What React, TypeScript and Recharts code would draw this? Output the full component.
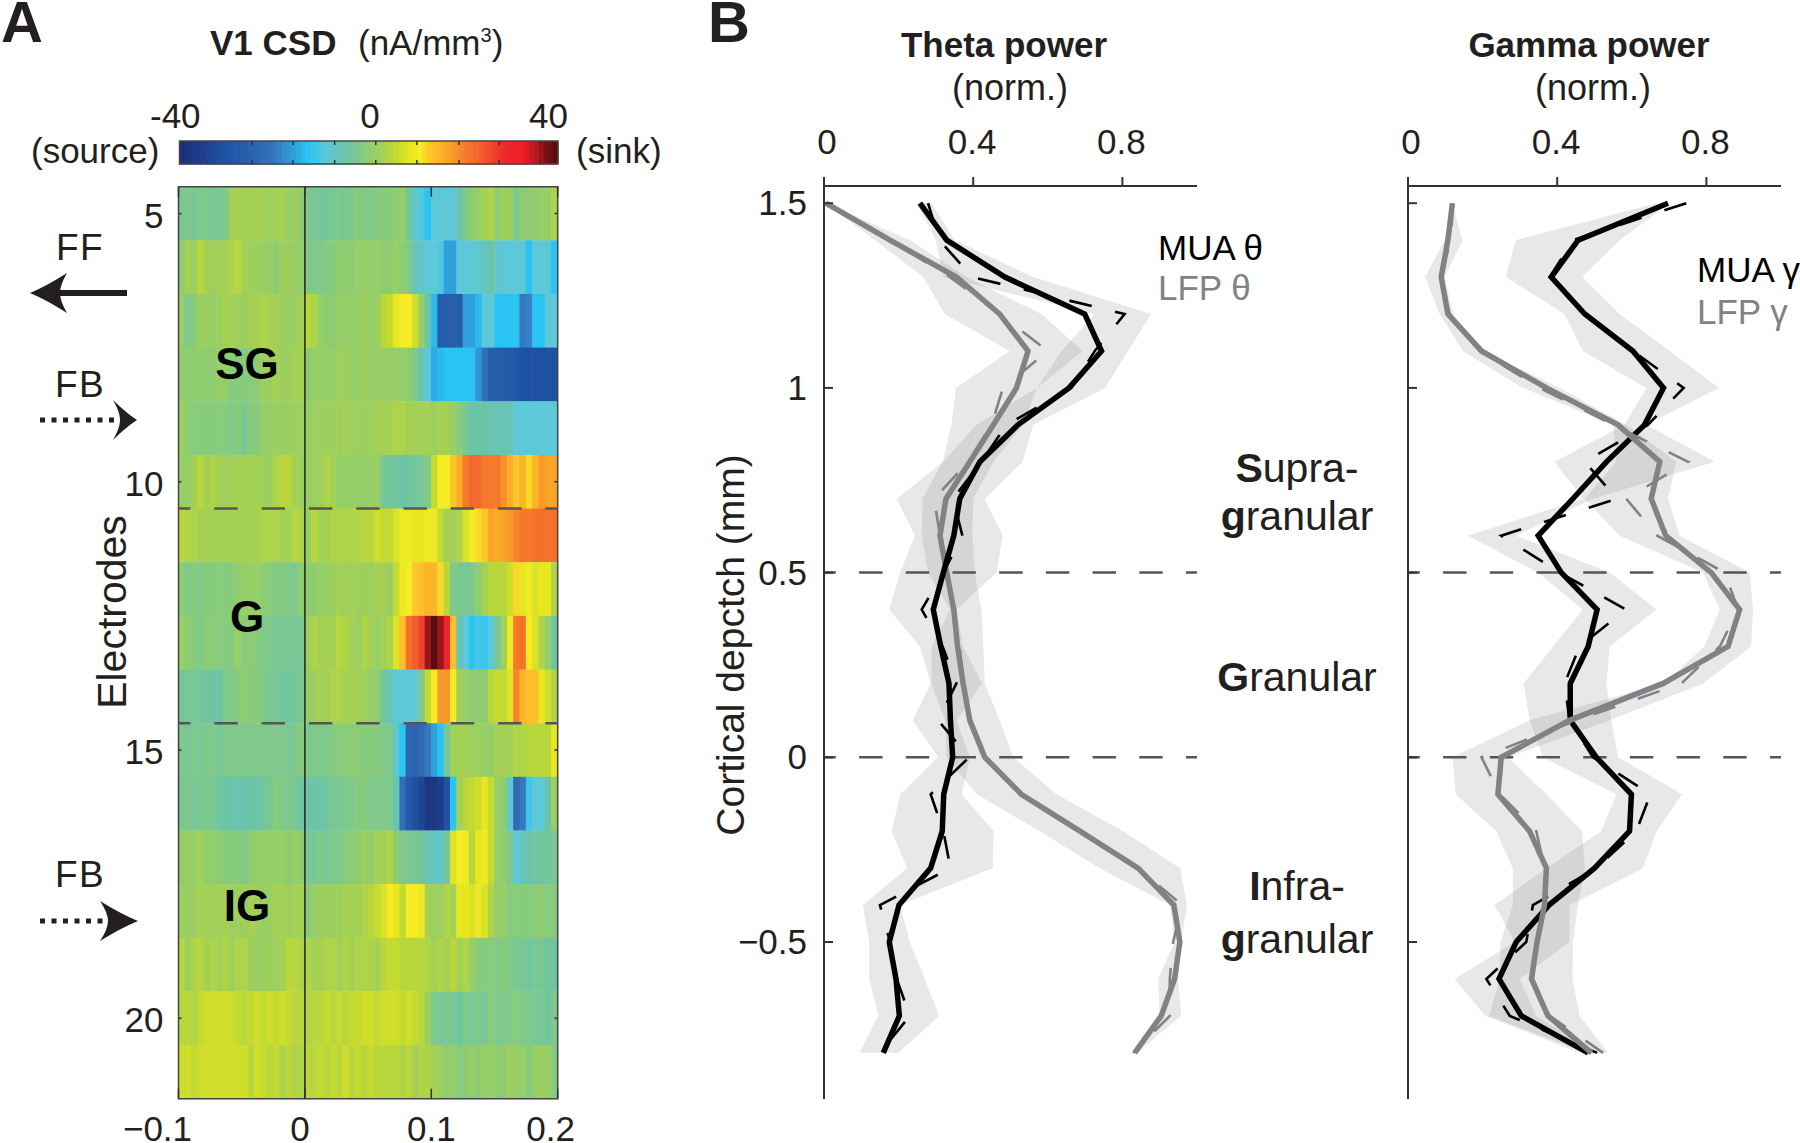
import React from "react";
import {
  Area,
  ComposedChart,
  Line,
  ReferenceArea,
  ReferenceLine,
  Scatter,
  ScatterChart,
  XAxis,
  YAxis,
} from "recharts";

const FONT = "'Liberation Sans', Arial, sans-serif";
const GREY = "#808285";
const AXIS = "#333333";

// panel A: CSD (nA/mm3), one row per electrode, 5 ms columns from -0.1 to 0.2 s
const electrodes = [5, 6, 7, 8, 9, 10, 11, 12, 13, 14, 15, 16, 17, 18, 19, 20, 21];
const csdE5 = [-3,-2,-3,-2,-2,-3,-3,-2,3,3,3,3,3,3,2,3,3,1,2,0,-2,-3,-4,-3,-3,-2,-3,-2,-1,-2,-2,-1,-1,-1,0,1,-4,-8,-10,-13,-9,-9,-9,-9,-5,-2,0,1,3,4,0,2,2,-2,0,0,0,1,1,4];
const csdE6 = [0,3,2,5,3,2,3,3,4,5,3,2,2,1,1,0,2,2,1,1,-2,-2,-2,-1,-1,0,0,0,1,1,1,1,0,0,1,0,-2,-6,-8,-9,-9,-10,-16,-16,-9,-9,-9,-8,-7,-5,-8,-9,-9,-9,-9,-13,-9,-9,-9,-13];
const csdE7 = [1,-2,-1,2,2,1,2,3,3,2,2,3,3,4,3,3,2,1,2,3,5,4,1,0,0,1,1,1,1,2,1,2,5,6,9,11,11,7,1,-5,-14,-27,-27,-26,-27,-16,-16,-14,-9,-9,-13,-13,-13,-13,-20,-19,-13,-13,-9,-9];
const csdE8 = [0,0,0,0,0,0,1,1,-1,-1,-1,-1,0,2,2,3,2,2,3,3,0,1,1,1,1,2,2,1,1,2,1,1,2,1,1,1,0,-2,-6,-9,-15,-14,-13,-13,-13,-13,-13,-17,-22,-26,-27,-27,-28,-29,-31,-31,-31,-31,-31,-31];
const csdE9 = [2,0,-1,-1,-1,-1,-1,-1,-2,-1,-3,-1,-1,1,1,2,1,2,2,2,1,2,2,2,2,2,3,2,2,2,2,3,3,3,4,4,3,3,3,3,2,3,3,1,-1,-3,-5,-5,-5,-6,-6,-6,-6,-9,-9,-9,-9,-9,-9,-9];
const csdE10 = [1,1,3,5,3,4,3,2,3,3,3,3,3,2,2,4,5,5,3,2,1,2,2,4,3,1,1,1,1,1,1,1,-3,-4,-4,-5,-4,-4,-3,-2,6,11,11,13,16,21,23,23,21,21,21,19,16,13,15,12,15,18,17,17];
const csdE11 = [5,4,4,3,3,3,3,3,3,3,3,3,3,4,4,4,3,3,5,4,1,5,3,3,4,4,4,4,4,5,5,7,6,6,8,10,10,9,9,10,10,6,3,3,4,8,11,12,13,17,16,17,18,20,21,21,22,22,22,22];
const csdE12 = [0,-2,-1,-2,-1,-1,-1,-1,-1,0,1,1,1,0,-1,-2,-1,-2,-2,0,0,0,1,1,2,3,2,3,2,2,2,3,3,1,6,10,11,13,14,15,15,12,5,-2,-3,-3,-2,0,3,5,5,5,7,12,9,10,8,9,9,4];
const csdE13 = [1,0,-1,-2,0,-1,-1,-1,-1,1,-1,0,-1,-2,-2,-3,-3,-3,-3,-3,2,4,3,3,3,5,4,3,2,4,3,1,3,4,8,14,22,24,27,37,40,37,31,14,-6,-9,-13,-11,-12,-9,-3,2,10,21,22,11,8,4,1,-5];
const csdE14 = [-4,-3,-3,-4,-4,-5,-5,-2,-2,-1,0,-1,-1,-2,-3,-3,-4,-4,-3,-3,1,2,3,3,4,4,3,3,3,2,1,0,-4,-6,-9,-9,-9,-9,-2,6,11,18,18,11,3,1,0,0,0,5,6,6,8,20,15,14,14,9,7,4];
const csdE15 = [-2,-3,-2,-3,-2,-2,-3,-2,-2,-2,-2,-2,-2,-2,-2,-2,-2,-3,-2,-1,-2,-2,-2,-2,-1,-1,-1,0,-1,-1,-1,-1,-2,-2,-8,-13,-24,-25,-23,-20,-16,-13,-3,2,3,3,2,2,1,1,3,3,3,4,4,5,5,5,5,9];
const csdE16 = [-3,-2,-3,-3,-2,-3,-4,-5,-5,-6,-5,-5,-5,-4,-3,-1,-2,-2,-3,-4,-5,-5,-5,-4,-3,-3,-2,-2,-1,-1,-2,-2,-2,-2,-6,-22,-28,-31,-34,-38,-38,-36,-31,-13,3,5,6,7,9,6,1,0,-8,-23,-20,-11,-9,-9,-5,2];
const csdE17 = [0,2,1,3,0,1,0,-1,-1,-1,-2,0,1,1,1,1,1,0,1,0,-3,-3,-2,-3,-2,-2,-1,0,0,2,1,3,3,4,0,-2,-3,-3,-4,-6,-7,-8,-3,8,11,10,5,9,10,6,1,0,-2,-9,-7,-5,-4,-4,-4,-3];
const csdE18 = [2,1,2,3,3,2,3,3,2,2,2,3,2,1,2,3,3,2,3,3,-1,1,2,2,2,2,3,3,3,4,5,6,8,11,9,6,11,11,10,3,2,2,4,3,9,9,8,10,8,4,1,1,-1,-1,-1,-1,-1,0,-1,-1];
const csdE19 = [5,2,4,5,3,4,3,4,2,4,4,2,1,2,2,2,3,5,5,4,4,3,3,4,4,3,4,3,4,4,4,3,5,6,6,5,5,5,5,4,3,4,3,5,3,4,1,-1,-1,-1,-2,-1,-2,-3,-3,-4,-3,-3,-4,-4];
const csdE20 = [5,5,4,6,7,7,7,7,7,6,5,6,7,6,7,6,7,6,5,5,4,5,5,6,5,6,5,6,6,7,7,6,7,7,7,6,7,6,5,2,-2,-3,-2,-3,-4,-2,-3,-2,-3,-1,-2,-2,-2,-1,-2,-2,-3,-3,-4,-2];
const csdE21 = [7,7,6,7,7,7,7,7,7,7,7,5,7,6,5,6,4,5,4,4,5,5,6,5,6,5,7,5,6,5,6,5,5,5,5,4,5,3,4,4,3,2,0,1,-1,0,1,0,1,1,0,0,2,1,1,-1,1,2,1,-1];
const csdRows = [csdE5, csdE6, csdE7, csdE8, csdE9, csdE10, csdE11, csdE12, csdE13, csdE14, csdE15, csdE16, csdE17, csdE18, csdE19, csdE20, csdE21];

const colorbarLevels = [-40,-39,-38,-37,-36,-35,-34,-33,-32,-31,-30,-29,-28,-27,-26,-25,-24,-23,-22,-21,-20,-19,-18,-17,-16,-15,-14,-13,-12,-11,-10,-9,-8,-7,-6,-5,-4,-3,-2,-1,0,1,2,3,4,5,6,7,8,9,10,11,12,13,14,15,16,17,18,19,20,21,22,23,24,25,26,27,28,29,30,31,32,33,34,35,36,37,38,39,40];
const colorbarTicks = [-34.7, -25, -16.2, -7.3, 1.5, 10.3, 19.3, 27.9, 36.6];

const colorStops: [number, number[]][] = [
  [-40, [28, 47, 122]],
  [-30, [31, 85, 166]],
  [-25, [42, 98, 174]],
  [-20, [52, 120, 189]],
  [-16, [47, 160, 220]],
  [-13, [41, 196, 243]],
  [-9, [92, 200, 216]],
  [-5, [108, 196, 168]],
  [-2, [127, 201, 138]],
  [0, [143, 204, 112]],
  [3, [164, 209, 85]],
  [6, [195, 218, 48]],
  [9, [232, 230, 31]],
  [11, [245, 236, 36]],
  [13, [253, 198, 42]],
  [17, [250, 164, 39]],
  [21, [245, 121, 42]],
  [25, [240, 86, 46]],
  [29, [238, 42, 42]],
  [33, [237, 28, 36]],
  [36, [176, 26, 32]],
  [38, [125, 16, 21]],
  [40, [90, 12, 16]],
];

function csdColor(v: number) {
  for (let i = 1; i < colorStops.length; i++) {
    const [hi, chi] = colorStops[i];
    if (v <= hi) {
      const [lo, clo] = colorStops[i - 1];
      const f = Math.max(0, (v - lo) / (hi - lo));
      const c = clo.map((a, k) => Math.round(a + (chi[k] - a) * f));
      return `rgb(${c[0]},${c[1]},${c[2]})`;
    }
  }
  return "rgb(90,12,16)";
}

// panel B: depth profiles
const depths = [1.5,1.4,1.3,1.2,1.1,1,0.9,0.8,0.7,0.6,0.5,0.4,0.3,0.2,0.1,0,-0.1,-0.2,-0.3,-0.4,-0.5,-0.6,-0.7,-0.8];

const muaTheta = [.257,.329,.485,.699,.744,.657,.52,.418,.364,.348,.32,.293,.313,.335,.339,.345,.321,.317,.286,.201,.175,.193,.202,.159];
const muaThetaRaw = [.279,.309,.398,.806,.726,.663,.489,.422,.346,.371,.32,.262,.318,.355,.306,.389,.286,.32,.339,.15,.177,.195,.23,.15];
const muaThetaLo = [.248,.3,.32,.726,.637,.571,.409,.32,.195,.244,.204,.175,.257,.286,.238,.306,.205,.181,.223,.104,.121,.121,.146,.095];
const muaThetaHi = [.288,.351,.561,.877,.815,.753,.561,.532,.431,.479,.463,.355,.373,.424,.355,.391,.369,.455,.452,.204,.23,.27,.309,.199];
const lfpTheta = [.005,.177,.355,.471,.547,.516,.454,.391,.327,.311,.329,.348,.358,.373,.391,.431,.529,.686,.842,.938,.954,.94,.904,.833];
const lfpThetaRaw = [.005,.177,.338,.471,.6,.48,.449,.387,.295,.311,.329,.346,.364,.373,.391,.431,.525,.681,.842,.96,.936,.927,.927,.829];
const lfpThetaLo = [.005,.137,.266,.324,.498,.354,.342,.318,.264,.262,.279,.338,.288,.288,.324,.329,.409,.579,.739,.927,.94,.896,.9,.824];
const lfpThetaHi = [.005,.23,.382,.583,.693,.571,.534,.454,.4,.398,.404,.422,.427,.431,.471,.507,.623,.802,.955,.973,.958,.949,.958,.838];

const muaGamma = [.697,.456,.384,.474,.603,.685,.634,.532,.442,.349,.411,.507,.483,.435,.435,.505,.599,.594,.5,.378,.29,.244,.304,.483];
const muaGammaRaw = [.746,.442,.38,.478,.603,.739,.643,.474,.56,.25,.407,.584,.46,.42,.433,.496,.65,.612,.505,.335,.317,.21,.273,.507];
const muaGammaLo = [.666,.289,.262,.42,.469,.639,.581,.393,.469,.161,.349,.469,.389,.31,.326,.362,.559,.518,.371,.232,.286,.125,.208,.46];
const muaGammaHi = [.702,.567,.467,.567,.702,.834,.639,.822,.496,.29,.541,.666,.541,.532,.545,.563,.735,.666,.63,.433,.433,.299,.344,.505];
const lfpGamma = [.119,.107,.089,.107,.197,.371,.563,.675,.652,.691,.813,.889,.858,.684,.433,.25,.241,.326,.371,.366,.346,.331,.375,.492];
const lfpGammaRaw = [.119,.116,.085,.112,.192,.353,.55,.751,.585,.668,.849,.885,.836,.733,.451,.197,.246,.344,.366,.366,.344,.335,.38,.523];
const lfpGammaLo = [.119,.098,.046,.085,.147,.308,.55,.559,.474,.567,.791,.836,.795,.684,.326,.119,.128,.237,.281,.281,.248,.246,.217,.478];
const lfpGammaHi = [.119,.146,.098,.121,.201,.407,.585,.719,.697,.728,.916,.925,.92,.791,.541,.268,.371,.467,.474,.456,.442,.441,.46,.536];

const depthTicks = [1.5, 1, 0.5, 0, -0.5];
const powerTicks = [0, 0.4, 0.8];
const timeTicks = [-0.1, 0, 0.1, 0.2];
const electrodeTicks = [5, 10, 15, 20];

const csdCells = csdRows.flatMap((row, r) =>
  row.map((csd, c) => ({ t: -0.0975 + c * 0.005, electrode: electrodes[r], csd }))
);
const colorbarCells = colorbarLevels.map((level) => ({ level, row: 0.5, csd: level }));

const heatCell = (w: number, h: number) => (props: any) => (
  <rect
    x={props.cx - w / 2 - 0.3}
    y={props.cy - h / 2}
    width={w + 0.6}
    height={h + 0.4}
    fill={csdColor(props.payload.csd)}
  />
);
const noMark = () => <g />;

const label = (x: number, y: number, text: string, extra: any = {}) => (
  <text x={x} y={y} fontFamily={FONT} fontSize={35} fill="#231f20" {...extra}>
    {text}
  </text>
);

function TimeTick({ x, y, payload }: any) {
  const shift: Record<string, number> = { "-0.1": -21, "0": -5, "0.1": 0, "0.2": -7 };
  const v = payload.value;
  const text = v < 0 ? `\u2212${Math.abs(v)}` : `${v}`;
  return (
    <g>
      <line x1={x} x2={x} y1={y} y2={y - 10} stroke={AXIS} strokeWidth={1.5} />
      <line x1={x} x2={x} y1={y - 912} y2={y - 902} stroke={AXIS} strokeWidth={1.5} />
      {label(x + shift[String(v)], y + 42, text, { textAnchor: "middle" })}
    </g>
  );
}

function ElectrodeTick({ x, y, payload }: any) {
  return (
    <g>
      <line x1={x} x2={x + 3} y1={y} y2={y} stroke={AXIS} strokeWidth={1.5} />
      <line x1={x + 376} x2={x + 379} y1={y} y2={y} stroke={AXIS} strokeWidth={1.5} />
      {label(x - 15, y + 14, String(payload.value), { textAnchor: "end" })}
    </g>
  );
}

function ColorbarTick({ x, y }: any) {
  return (
    <g>
      <line x1={x} x2={x} y1={y} y2={y - 4} stroke={AXIS} strokeWidth={1.5} />
      <line x1={x} x2={x} y1={y - 23} y2={y - 19} stroke={AXIS} strokeWidth={1.5} />
    </g>
  );
}

function PowerTick({ x, y, payload }: any) {
  const v = payload.value;
  return (
    <g>
      <line x1={x} x2={x} y1={y} y2={y - 9} stroke={AXIS} strokeWidth={2} />
      {label(x + (v === 0 ? 3 : -1), y - 32, String(v), { textAnchor: "middle" })}
    </g>
  );
}

const DepthTick = (showLabel: boolean) => ({ x, y, payload }: any) => {
  const v = payload.value;
  const text = v < 0 ? `\u2212${Math.abs(v)}` : `${v}`;
  return (
    <g>
      <line x1={x} x2={x + 9} y1={y} y2={y} stroke={AXIS} strokeWidth={2} />
      {showLabel ? label(x - 17, y + 12, text, { textAnchor: "end" }) : null}
    </g>
  );
};

function CsdHeatmap() {
  const margin = { top: 46.7, left: 88.5, right: 32.3, bottom: 44.3 };
  return (
    <>
      <div style={{ position: "absolute", left: 90, top: 140 }}>
        <ScatterChart width={500} height={1003} margin={margin}>
          <XAxis type="number" dataKey="t" domain={[-0.1, 0.2]} hide />
          <YAxis type="number" dataKey="electrode" domain={[4.5, 21.5]} reversed hide />
          <Scatter data={csdCells} shape={heatCell(6.32, 53.65)} isAnimationActive={false} />
        </ScatterChart>
      </div>
      <div style={{ position: "absolute", left: 90, top: 140 }}>
        <ScatterChart width={500} height={1003} margin={{ ...margin, left: 87.5, bottom: 43.3 }}>
          <XAxis
            type="number"
            dataKey="t"
            domain={[-0.1, 0.2]}
            ticks={timeTicks}
            height={1}
            tickSize={0}
            tickMargin={0}
            tickLine={false}
            axisLine={false}
            tick={<TimeTick />}
            interval={0}
          />
          <YAxis
            type="number"
            dataKey="electrode"
            domain={[4.5, 21.5]}
            reversed
            ticks={electrodeTicks}
            width={1}
            tickSize={0}
            tickMargin={0}
            tickLine={false}
            axisLine={false}
            tick={<ElectrodeTick />}
            interval={0}
          />
          <Scatter data={csdCells.slice(0, 1)} shape={noMark} isAnimationActive={false} />
          <ReferenceLine x={0} stroke="#222" strokeWidth={1.5} />
          <ReferenceLine y={10.5} stroke="#555" strokeWidth={2.5} strokeDasharray="23.4 23.9" strokeDashoffset={11.5} />
          <ReferenceLine y={14.5} stroke="#555" strokeWidth={2.5} strokeDasharray="23.4 23.9" strokeDashoffset={11.5} />
          <ReferenceArea x1={-0.1} x2={0.2} y1={4.5} y2={21.5} fill="none" stroke="#444" strokeWidth={1.5} />
        </ScatterChart>
      </div>
    </>
  );
}

function Colorbar() {
  const margin = { top: 11, left: 9.5, right: 12, bottom: 10 };
  return (
    <>
      <div style={{ position: "absolute", left: 170, top: 130 }}>
        <ScatterChart width={400} height={44} margin={margin}>
          <XAxis type="number" dataKey="level" domain={[-40.5, 40.5]} hide />
          <YAxis type="number" dataKey="row" domain={[0, 1]} hide />
          <Scatter data={colorbarCells} shape={heatCell(4.68, 23)} isAnimationActive={false} />
        </ScatterChart>
      </div>
      <div style={{ position: "absolute", left: 170, top: 130 }}>
        <ScatterChart width={400} height={44} margin={{ ...margin, bottom: 9 }}>
          <XAxis
            type="number"
            dataKey="level"
            domain={[-40.5, 40.5]}
            ticks={colorbarTicks}
            height={1}
            tickSize={0}
            tickMargin={0}
            tickLine={false}
            axisLine={false}
            tick={<ColorbarTick />}
            interval={0}
          />
          <YAxis type="number" dataKey="row" domain={[0, 1]} hide />
          <Scatter data={colorbarCells.slice(0, 1)} shape={noMark} isAnimationActive={false} />
          <ReferenceArea x1={-40.5} x2={40.5} y1={0} y2={1} fill="none" stroke="#444" strokeWidth={1.5} />
        </ScatterChart>
      </div>
    </>
  );
}

type ProfileProps = {
  left: number;
  marginLeft: number;
  width: number;
  marginRight: number;
  showDepthLabels: boolean;
  greyOnTop: boolean;
  mua: number[];
  muaRaw: number[];
  muaLo: number[];
  muaHi: number[];
  lfp: number[];
  lfpRaw: number[];
  lfpLo: number[];
  lfpHi: number[];
};

function ProfilePanel(p: ProfileProps) {
  const rows = depths.map((depth, i) => ({
    depth,
    mua: p.mua[i],
    muaRaw: p.muaRaw[i],
    muaBand: [p.muaLo[i], p.muaHi[i]],
    lfp: p.lfp[i],
    lfpRaw: p.lfpRaw[i],
    lfpBand: [p.lfpLo[i], p.lfpHi[i]],
  }));
  const black = [
    <Line key="mr" dataKey="muaRaw" stroke="#000" strokeWidth={2.6} strokeDasharray="23 24" dot={false} type="linear" isAnimationActive={false} />,
    <Line key="m" dataKey="mua" stroke="#000" strokeWidth={5.5} dot={false} type="linear" isAnimationActive={false} />,
  ];
  const grey = [
    <Line key="lr" dataKey="lfpRaw" stroke={GREY} strokeWidth={2.6} strokeDasharray="23 24" dot={false} type="linear" isAnimationActive={false} />,
    <Line key="l" dataKey="lfp" stroke={GREY} strokeWidth={5.5} dot={false} type="linear" isAnimationActive={false} />,
  ];
  return (
    <div style={{ position: "absolute", left: p.left, top: 100 }}>
      <ComposedChart
        layout="vertical"
        width={p.width}
        height={1030}
        data={rows}
        margin={{ top: 85, left: p.marginLeft - 1, right: p.marginRight, bottom: 31 }}
      >
        <XAxis
          type="number"
          orientation="top"
          domain={[0, 1]}
          ticks={powerTicks}
          height={1}
          tickSize={0}
          tickMargin={0}
          tickLine={false}
          axisLine={{ stroke: AXIS, strokeWidth: 2 }}
          tick={<PowerTick />}
          interval={0}
        />
        <YAxis
          type="number"
          dataKey="depth"
          domain={[-0.925, 1.5466]}
          reversed
          ticks={depthTicks}
          width={1}
          tickSize={0}
          tickMargin={0}
          tickLine={false}
          axisLine={{ stroke: AXIS, strokeWidth: 2 }}
          tick={DepthTick(p.showDepthLabels)}
          interval={0}
        />
        <Area dataKey="lfpBand" type="linear" stroke="none" fill="#808080" fillOpacity={0.18} dot={false} activeDot={false} isAnimationActive={false} />
        <Area dataKey="muaBand" type="linear" stroke="none" fill="#808080" fillOpacity={0.18} dot={false} activeDot={false} isAnimationActive={false} />
        <ReferenceLine y={0.5} stroke="#555" strokeWidth={2.5} strokeDasharray="23.4 23.3" strokeDashoffset={11.6} />
        <ReferenceLine y={0} stroke="#555" strokeWidth={2.5} strokeDasharray="23.4 23.3" strokeDashoffset={11.6} />
        {p.greyOnTop ? black : grey}
        {p.greyOnTop ? grey : black}
      </ComposedChart>
    </div>
  );
}

function Annotations() {
  const sec = { fontSize: 41, textAnchor: "middle" };
  const arrowHead = (x: number, y: number, len: number, notch: number) => (
    <path
      d={`M${x} ${y}Q${x - len * 0.45} ${y - 7} ${x - len} ${y - 20}Q${x - notch} ${y - 8} ${x - notch} ${y}Q${x - notch} ${y + 8} ${x - len} ${y + 20}Q${x - len * 0.45} ${y + 7} ${x} ${y}z`}
      fill="#231f20"
    />
  );
  return (
    <svg width={1800} height={1143} style={{ position: "absolute", left: 0, top: 0, pointerEvents: "none" }}>
      {label(1, 42, "A", { fontSize: 58, fontWeight: 700 })}
      {label(708, 42, "B", { fontSize: 58, fontWeight: 700 })}

      {label(210, 55, "V1 CSD", { fontWeight: 700 })}
      <text x={358} y={55} fontFamily={FONT} fontSize={35} fill="#231f20">
        (nA/mm<tspan fontSize={20} dy={-13}>3</tspan><tspan dy={13}>)</tspan>
      </text>
      {label(150, 128, "-40")}
      {label(370, 128, "0", { textAnchor: "middle" })}
      {label(529, 128, "40")}
      {label(31, 163, "(source)")}
      {label(576, 163, "(sink)")}

      {label(56, 260, "FF", { fontSize: 37, letterSpacing: 1.5 })}
      <line x1={58} x2={127} y1={293} y2={293} stroke="#231f20" strokeWidth={6} />
      {arrowHead(30, 293, -37, -30)}
      {label(55, 397, "FB", { fontSize: 37, letterSpacing: 1.5 })}
      <line x1={40} x2={118} y1={420} y2={420} stroke="#231f20" strokeWidth={5} strokeDasharray="5 6.5" />
      {arrowHead(137, 420, 24, 17)}
      {label(55, 887, "FB", { fontSize: 37, letterSpacing: 1.5 })}
      <line x1={40} x2={108} y1={921} y2={921} stroke="#231f20" strokeWidth={5} strokeDasharray="5 6.5" />
      {arrowHead(138, 921, 38, 30)}

      {label(247, 379, "SG", { fontSize: 44, fontWeight: 700, textAnchor: "middle", fill: "#000" })}
      {label(247, 632, "G", { fontSize: 44, fontWeight: 700, textAnchor: "middle", fill: "#000" })}
      {label(247, 921, "IG", { fontSize: 44, fontWeight: 700, textAnchor: "middle", fill: "#000" })}
      {label(0, 0, "Electrodes", { fontSize: 41, textAnchor: "middle", transform: "translate(126 612) rotate(-90)" })}
      {label(0, 0, "Cortical depctch (mm)", { fontSize: 39, textAnchor: "middle", transform: "translate(744 645) rotate(-90)" })}

      {label(1004, 57, "Theta power", { fontWeight: 700, textAnchor: "middle" })}
      {label(1010, 100, "(norm.)", { fontSize: 36, textAnchor: "middle" })}
      {label(1589, 57, "Gamma power", { fontWeight: 700, textAnchor: "middle" })}
      {label(1593, 100, "(norm.)", { fontSize: 36, textAnchor: "middle" })}

      {label(1158, 260, "MUA \u03b8", { fill: "#000" })}
      {label(1158, 300, "LFP \u03b8", { fill: GREY })}
      {label(1697, 282, "MUA \u03b3", { fill: "#000" })}
      {label(1697, 324, "LFP \u03b3", { fill: GREY })}

      <text x={1297} y={482} fontFamily={FONT} {...sec} fill="#231f20"><tspan fontWeight={700}>S</tspan>upra-</text>
      <text x={1297} y={530} fontFamily={FONT} {...sec} fill="#231f20"><tspan fontWeight={700}>g</tspan>ranular</text>
      <text x={1297} y={691} fontFamily={FONT} {...sec} fill="#231f20"><tspan fontWeight={700}>G</tspan>ranular</text>
      <text x={1297} y={900} fontFamily={FONT} {...sec} fill="#231f20"><tspan fontWeight={700}>I</tspan>nfra-</text>
      <text x={1297} y={953} fontFamily={FONT} {...sec} fill="#231f20"><tspan fontWeight={700}>g</tspan>ranular</text>
    </svg>
  );
}

export default function App() {
  return (
    <div style={{ position: "absolute", left: 0, top: 0, width: 1800, height: 1143, background: "#fff", overflow: "hidden" }}>
      <Colorbar />
      <CsdHeatmap />
      <ProfilePanel
        left={720} marginLeft={104} width={510} marginRight={33}
        showDepthLabels greyOnTop={false}
        mua={muaTheta} muaRaw={muaThetaRaw} muaLo={muaThetaLo} muaHi={muaThetaHi}
        lfp={lfpTheta} lfpRaw={lfpThetaRaw} lfpLo={lfpThetaLo} lfpHi={lfpThetaHi}
      />
      <ProfilePanel
        left={1380} marginLeft={28} width={420} marginRight={19}
        showDepthLabels={false} greyOnTop
        mua={muaGamma} muaRaw={muaGammaRaw} muaLo={muaGammaLo} muaHi={muaGammaHi}
        lfp={lfpGamma} lfpRaw={lfpGammaRaw} lfpLo={lfpGammaLo} lfpHi={lfpGammaHi}
      />
      <Annotations />
    </div>
  );
}
